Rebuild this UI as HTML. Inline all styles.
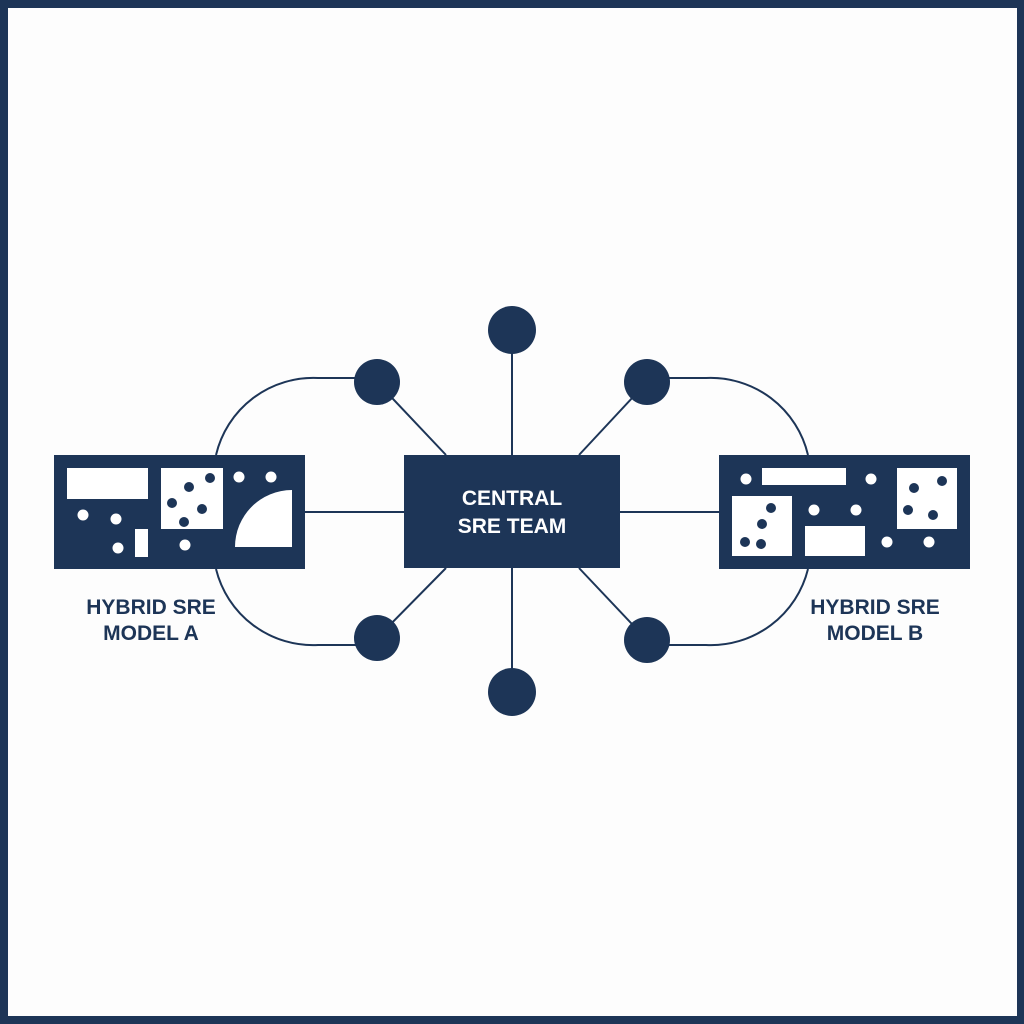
<!DOCTYPE html>
<html><head><style>
html,body{margin:0;padding:0;background:#fff}
svg{display:block}
</style></head><body>
<svg width="1024" height="1024" viewBox="0 0 1024 1024" xmlns="http://www.w3.org/2000/svg">
<rect x="0" y="0" width="1024" height="1024" fill="#1d3557"/>
<rect x="8" y="8" width="1009" height="1008" fill="#fdfdfd"/>
<g stroke="#1d3557" stroke-width="2" fill="none">
<line x1="512" y1="330" x2="512" y2="455"/>
<line x1="512" y1="568" x2="512" y2="692"/>
<line x1="377" y1="382" x2="446" y2="455"/>
<line x1="647" y1="382" x2="579" y2="455"/>
<line x1="377" y1="638" x2="446" y2="568"/>
<line x1="647" y1="640" x2="579" y2="568"/>
<line x1="305" y1="512" x2="404" y2="512"/>
<line x1="620" y1="512" x2="719" y2="512"/>
<path d="M377,378 L318,378 A100,100 0 0 0 216,455"/>
<path d="M377,645 L318,645 A100,100 0 0 1 216,569"/>
<path d="M647,378 L706,378 A100,100 0 0 1 808,455"/>
<path d="M647,645 L706,645 A100,100 0 0 0 808,569"/>
</g>
<g fill="#1d3557">
<circle cx="512" cy="330" r="24"/>
<circle cx="512" cy="692" r="24"/>
<circle cx="377" cy="382" r="23"/>
<circle cx="647" cy="382" r="23"/>
<circle cx="377" cy="638" r="23"/>
<circle cx="647" cy="640" r="23"/>
<rect x="404" y="455" width="216" height="113"/>
<rect x="54" y="455" width="251" height="114"/>
<rect x="719" y="455" width="251" height="114"/>
</g>
<g fill="#fff">
<rect x="67" y="468" width="81" height="31"/>
<rect x="161" y="468" width="62" height="61"/>
<rect x="135" y="529" width="13" height="28"/>
<path d="M235,547 A57,57 0 0 1 292,490 L292,547 Z"/>
<circle cx="239" cy="477" r="5.5"/><circle cx="271" cy="477" r="5.5"/>
<circle cx="83" cy="515" r="5.5"/><circle cx="116" cy="519" r="5.5"/>
<circle cx="118" cy="548" r="5.5"/><circle cx="185" cy="545" r="5.5"/>
<rect x="762" y="468" width="84" height="17"/>
<rect x="732" y="496" width="60" height="60"/>
<rect x="805" y="526" width="60" height="30"/>
<rect x="897" y="468" width="60" height="61"/>
<circle cx="746" cy="479" r="5.5"/><circle cx="871" cy="479" r="5.5"/>
<circle cx="814" cy="510" r="5.5"/><circle cx="856" cy="510" r="5.5"/>
<circle cx="887" cy="542" r="5.5"/><circle cx="929" cy="542" r="5.5"/>
</g>
<g fill="#1d3557">
<circle cx="210" cy="478" r="5"/><circle cx="189" cy="487" r="5"/>
<circle cx="172" cy="503" r="5"/><circle cx="202" cy="509" r="5"/>
<circle cx="184" cy="522" r="5"/>
<circle cx="771" cy="508" r="5"/><circle cx="762" cy="524" r="5"/>
<circle cx="745" cy="542" r="5"/><circle cx="761" cy="544" r="5"/>
<circle cx="914" cy="488" r="5"/><circle cx="942" cy="481" r="5"/>
<circle cx="908" cy="510" r="5"/><circle cx="933" cy="515" r="5"/>
</g>
<g font-family="Liberation Sans, sans-serif" font-weight="bold" font-size="21" text-anchor="middle">
<text x="512" y="505" fill="#fff">CENTRAL</text>
<text x="512" y="533" fill="#fff">SRE TEAM</text>
<text x="151" y="614" fill="#1d3557">HYBRID SRE</text>
<text x="151" y="640" fill="#1d3557">MODEL A</text>
<text x="875" y="614" fill="#1d3557">HYBRID SRE</text>
<text x="875" y="640" fill="#1d3557">MODEL B</text>
</g>
</svg>
</body></html>
